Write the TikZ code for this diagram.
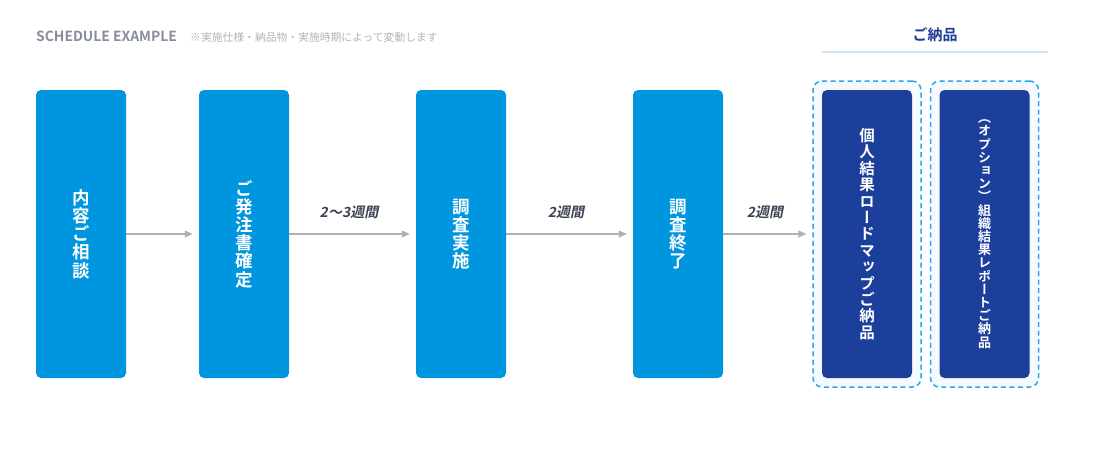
\documentclass[tikz,border=0pt]{standalone}
\usepackage{fontspec}
\usetikzlibrary{arrows.meta}
\newfontfamily\jp{Noto Sans CJK JP}
\newfontfamily\jpb{Noto Sans CJK JP Bold}
\newfontfamily\jpv{Noto Sans CJK JP Bold}[RawFeature={+vert}]
\newfontfamily\jpsl{Noto Sans CJK JP Bold}[FakeSlant=0.2]
\definecolor{cyanbox}{HTML}{0096DF}
\definecolor{navybox}{HTML}{1D3F9C}
\definecolor{dashblue}{HTML}{29A7EA}
\definecolor{framefill}{HTML}{F5FAFE}
\definecolor{arrowgray}{HTML}{AEB1B6}
\definecolor{labelgray}{HTML}{3B4252}
\definecolor{titlegray}{HTML}{868D9A}
\definecolor{notegray}{HTML}{B0B4BB}
\definecolor{lineblue}{HTML}{D2E5FA}
\definecolor{headnavy}{HTML}{1F3E96}
\tikzset{
  stepbox/.style={rectangle, rounded corners=5pt, minimum width=90pt, minimum height=288pt,
    inner sep=0pt, text=white, align=center},
  bigtxt/.style={font=\jpv\fontsize{17.5}{18.2}\selectfont},
  midtxt/.style={font=\jpv\fontsize{15.5}{16.4}\selectfont},
  smalltxt/.style={font=\jpv\fontsize{13}{13.2}\selectfont},
  deliverframe/.style={rectangle, rounded corners=9pt, minimum width=108pt, minimum height=306pt,
    inner sep=0pt, draw=dashblue, fill=framefill, line width=1.5pt, dash pattern=on 5pt off 3.5pt},
  flow/.style={draw=arrowgray, line width=1.3pt, -{Triangle[length=8pt,width=7pt]}},
  durlbl/.style={text=labelgray, font=\jpsl\fontsize{14}{16}\selectfont, inner sep=0pt},
}
\begin{document}
\begin{tikzpicture}[x=1pt,y=-1pt]
\useasboundingbox (0,0) rectangle (1120,469);
% title
\node[anchor=base west, inner sep=0pt, text=titlegray, font=\jpb\fontsize{13.9}{15}\selectfont] (title) at (36,41) {SCHEDULE EXAMPLE};
\node[anchor=base west, inner sep=0pt, text=notegray, font=\jp\fontsize{10.8}{12}\selectfont] (note) at (190,41) {※実施仕様・納品物・実施時期によって変動します};
% header
\node[inner sep=0pt, text=headnavy, font=\jpb\fontsize{15}{16}\selectfont] (head) at (935,35) {ご納品};
\coordinate (ul1) at (822,52);
\coordinate (ul2) at (1048,52);
\draw[lineblue, line width=1.5pt] (ul1) -- (ul2);
% frames
\node[deliverframe] (f5) at (867,234) {};
\node[deliverframe] (f6) at (984.5,234) {};
% boxes
\node[stepbox, fill=cyanbox, bigtxt] (b1) at (81,234) {内\\容\\ご\\相\\談};
\node[stepbox, fill=cyanbox, bigtxt] (b2) at (244,234) {ご\\発\\注\\書\\確\\定};
\node[stepbox, fill=cyanbox, bigtxt] (b3) at (461,234) {調\\査\\実\\施};
\node[stepbox, fill=cyanbox, bigtxt] (b4) at (678,234) {調\\査\\終\\了};
\node[stepbox, fill=navybox, midtxt] (b5) at (867,234) {個\\人\\結\\果\\ロ\\ー\\ド\\マ\\ッ\\プ\\ご\\納\\品};
\node[stepbox, fill=navybox, smalltxt] (b6) at (984.5,234) {（\\オ\\プ\\シ\\ョ\\ン\\）\\組\\織\\結\\果\\レ\\ポ\\ー\\ト\\ご\\納\\品};
% arrows
\draw[flow] (b1.east) -- ([xshift=-6pt]b2.west);
\draw[flow] (b2.east) -- ([xshift=-6pt]b3.west);
\draw[flow] (b3.east) -- ([xshift=-6pt]b4.west);
\draw[flow] (b4.east) -- ([xshift=-6pt]f5.west);
% durations
\node[durlbl] (d2) at (349,212) {2〜3週間};
\node[durlbl] (d3) at (566,212) {2週間};
\node[durlbl] (d4) at (765,212) {2週間};
\end{tikzpicture}
\end{document}
